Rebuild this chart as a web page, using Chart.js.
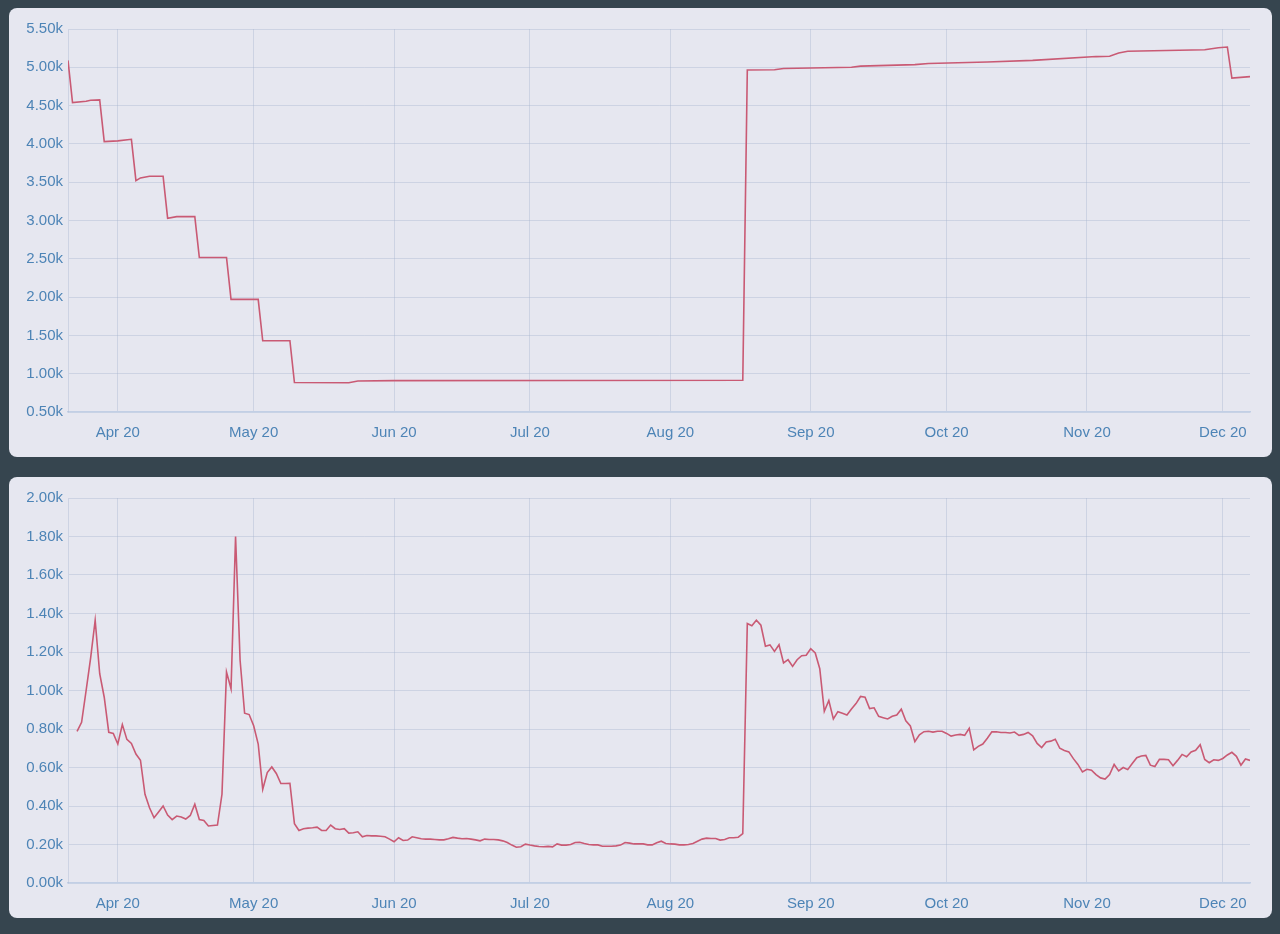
<!DOCTYPE html>
<html lang="en">
<head>
    <meta charset="UTF-8" />
    <title>Charts</title>
    <script src="https://cdn.jsdelivr.net/npm/chart.js"></script>
    <style>
        body { margin: 0; background: #36454f; width: 1280px; height: 934px; overflow: hidden; }
        .card { position: absolute; left: 9px; width: 1263px; background: #e6e7f0; border-radius: 8px; }
        #card1 { top: 8px; height: 449px; }
        #card2 { top: 477px; height: 441px; }
    </style>
</head>
<body>
    <div class="card" id="card1"><canvas id="chart1"></canvas></div>
    <div class="card" id="card2"><canvas id="chart2"></canvas></div>

    <script>
        // x axis range and month ticks
        const xStart = '2020-03-21';
        const xEnd = '2020-12-07';
        const monthTicks = ['2020-04-01', '2020-05-01', '2020-06-01', '2020-07-01', '2020-08-01',
                            '2020-09-01', '2020-10-01', '2020-11-01', '2020-12-01'];
        const monthNames = ['Jan', 'Feb', 'Mar', 'Apr', 'May', 'Jun', 'Jul', 'Aug', 'Sep', 'Oct', 'Nov', 'Dec'];

        // top chart: corners of the stepped line (values in k)
        const topDates = ['2020-03-21', '2020-03-22', '2020-03-25', '2020-03-26', '2020-03-28', '2020-03-29',
            '2020-04-01', '2020-04-04', '2020-04-05', '2020-04-06', '2020-04-08', '2020-04-11',
            '2020-04-12', '2020-04-14', '2020-04-18', '2020-04-19', '2020-04-25', '2020-04-26',
            '2020-05-02', '2020-05-03', '2020-05-09', '2020-05-10', '2020-05-22', '2020-05-24',
            '2020-06-01', '2020-08-17', '2020-08-18', '2020-08-24', '2020-08-26', '2020-09-10',
            '2020-09-12', '2020-09-24', '2020-09-27', '2020-10-10', '2020-10-20', '2020-11-03',
            '2020-11-06', '2020-11-08', '2020-11-10', '2020-11-27', '2020-11-30', '2020-12-02',
            '2020-12-03', '2020-12-07'];
        const topValues = [5.09, 4.54, 4.556, 4.57, 4.574, 4.03,
            4.04, 4.06, 3.52, 3.556, 3.578, 3.578,
            3.03, 3.05, 3.05, 2.517, 2.517, 1.97,
            1.97, 1.43, 1.43, 0.885, 0.882, 0.905,
            0.91, 0.915, 4.965, 4.968, 4.985, 5.00,
            5.015, 5.035, 5.05, 5.07, 5.09, 5.14,
            5.145, 5.187, 5.21, 5.23, 5.255, 5.265,
            4.86, 4.878];

        // bottom chart: one value per day from this date (values in k)
        const bottomStart = '2020-03-23';
        const bottomValues = [
            0.788, 0.835, 1.00, 1.17, 1.365, 1.087, 0.965, 0.783, 0.777, 0.722,
            0.823, 0.746, 0.725, 0.67, 0.638, 0.461, 0.391, 0.339, 0.369, 0.40,
            0.353, 0.329, 0.348, 0.343, 0.332, 0.351, 0.409, 0.330, 0.325, 0.296,
            0.299, 0.301, 0.461, 1.096, 1.009, 1.80, 1.157, 0.882, 0.875, 0.817,
            0.722, 0.487, 0.574, 0.603, 0.569, 0.517, 0.517, 0.518, 0.308, 0.273,
            0.282, 0.285, 0.287, 0.29, 0.273, 0.273, 0.301, 0.282, 0.278, 0.282,
            0.259, 0.261, 0.266, 0.24, 0.247, 0.245, 0.245, 0.243, 0.24, 0.228,
            0.214, 0.235, 0.221, 0.223, 0.24, 0.235, 0.23, 0.228, 0.228, 0.226,
            0.224, 0.224, 0.23, 0.237, 0.233, 0.23, 0.231, 0.228, 0.224, 0.219,
            0.228, 0.226, 0.226, 0.224, 0.219, 0.21, 0.197, 0.186, 0.188, 0.202,
            0.197, 0.193, 0.19, 0.188, 0.19, 0.188, 0.203, 0.197, 0.197, 0.2,
            0.21, 0.212, 0.205, 0.2, 0.198, 0.198, 0.191, 0.191, 0.191, 0.193,
            0.197, 0.21, 0.207, 0.203, 0.203, 0.203, 0.198, 0.198, 0.209, 0.217,
            0.205, 0.203, 0.202, 0.198, 0.198, 0.2, 0.205, 0.217, 0.228, 0.233,
            0.231, 0.231, 0.223, 0.226, 0.235, 0.235, 0.238, 0.256, 1.348, 1.336,
            1.365, 1.339, 1.23, 1.237, 1.203, 1.238, 1.143, 1.16, 1.125, 1.16,
            1.181, 1.183, 1.217, 1.195, 1.113, 0.892, 0.948, 0.852, 0.89, 0.882,
            0.873, 0.904, 0.932, 0.969, 0.965, 0.906, 0.91, 0.866, 0.859, 0.852,
            0.866, 0.873, 0.903, 0.843, 0.816, 0.734, 0.77, 0.786, 0.788, 0.784,
            0.788, 0.788, 0.777, 0.763, 0.769, 0.772, 0.767, 0.804, 0.692, 0.71,
            0.722, 0.752, 0.785, 0.786, 0.782, 0.782, 0.779, 0.784, 0.767, 0.772,
            0.782, 0.765, 0.725, 0.704, 0.733, 0.737, 0.747, 0.70, 0.688, 0.681,
            0.646, 0.616, 0.577, 0.591, 0.586, 0.563, 0.546, 0.54, 0.563, 0.616,
            0.582, 0.60, 0.589, 0.621, 0.651, 0.66, 0.663, 0.612, 0.605, 0.642,
            0.642, 0.64, 0.609, 0.637, 0.668, 0.656, 0.681, 0.689, 0.718, 0.642,
            0.625, 0.64, 0.637, 0.647, 0.665, 0.679, 0.658, 0.612, 0.644, 0.637
        ];

        const DAY = 86400000;
        function toDay(s) {
            const p = s.split('-');
            return Date.UTC(+p[0], +p[1] - 1, +p[2]) / DAY;
        }

        const tickColor = '#4d84b6';
        const gridColor = 'rgba(165,178,205,0.38)';
        const lineColor = '#c95a74';
        const font = { family: '"Liberation Sans", Arial, sans-serif', size: 15 };

        function makeChart(id, points, yMin, yMax, yStep, xHeight) {
            const ctx = document.getElementById(id).getContext('2d');
            return new Chart(ctx, {
                type: 'line',
                data: {
                    datasets: [{
                        data: points,
                        borderColor: lineColor,
                        borderWidth: 1.6,
                        pointRadius: 0,
                        tension: 0,
                        fill: false
                    }]
                },
                options: {
                    responsive: true,
                    maintainAspectRatio: false,
                    animation: false,
                    layout: { padding: { top: 21, right: 22, left: 0, bottom: 0 } },
                    plugins: { legend: { display: false }, tooltip: { enabled: false } },
                    scales: {
                        x: {
                            type: 'linear',
                            min: toDay(xStart),
                            max: toDay(xEnd),
                            afterBuildTicks: function(scale) {
                                scale.ticks = monthTicks.map(m => ({ value: toDay(m) }));
                            },
                            afterFit: function(scale) { scale.height = xHeight; },
                            grid: { color: gridColor, drawTicks: false },
                            border: { color: '#c2cfe5', width: 1.5 },
                            ticks: {
                                color: tickColor,
                                font: font,
                                padding: 12,
                                autoSkip: false,
                                maxRotation: 0,
                                callback: function(v) {
                                    const d = new Date(v * DAY);
                                    return monthNames[d.getUTCMonth()] + ' ' + String(d.getUTCFullYear()).slice(2);
                                }
                            }
                        },
                        y: {
                            min: yMin,
                            max: yMax,
                            afterFit: function(scale) { scale.width = 59; },
                            grid: { color: gridColor, drawTicks: false },
                            border: { color: gridColor },
                            ticks: {
                                color: tickColor,
                                font: font,
                                padding: 5,
                                stepSize: yStep,
                                callback: v => v.toFixed(2) + 'k'
                            }
                        }
                    }
                }
            });
        }

        const topPoints = topDates.map((d, i) => ({ x: toDay(d), y: topValues[i] }));
        const bottomPoints = bottomValues.map((v, i) => ({ x: toDay(bottomStart) + i, y: v }));

        makeChart('chart1', topPoints, 0.5, 5.5, 0.5, 45);
        makeChart('chart2', bottomPoints, 0, 2, 0.2, 35);
    </script>
</body>
</html>
